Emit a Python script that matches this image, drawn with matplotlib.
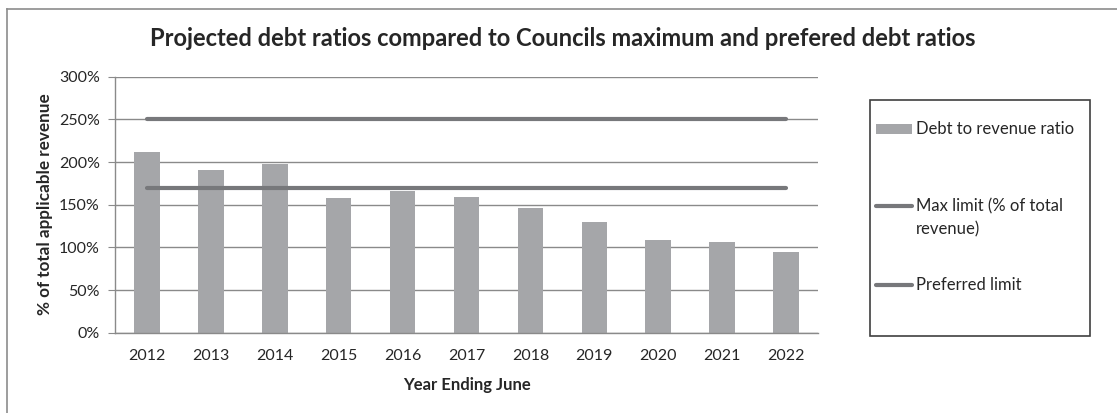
import matplotlib
matplotlib.use("Agg")
import matplotlib.pyplot as plt
from matplotlib.patches import Rectangle
from matplotlib.lines import Line2D
from matplotlib.ticker import FuncFormatter, MultipleLocator

years = ["2012", "2013", "2014", "2015", "2016", "2017", "2018", "2019", "2020", "2021", "2022"]
debt_ratio = [212, 191, 198, 158, 166, 159, 146, 130, 109, 106, 95]
max_limit = [250] * 11
preferred_limit = [170] * 11

plt.rcParams['font.family'] = ['Lato', 'DejaVu Sans']

W, H = 1117, 413
fig = plt.figure(figsize=(W / 100, H / 100), dpi=100)

def fx(px):
    return px / W

def fy(py):
    return 1 - py / H

txt_c = '#262626'

# outer frame
fig.add_artist(Line2D([fx(7), fx(7)], [fy(9), 0], color='#8c8c8c', lw=1.2))
fig.add_artist(Line2D([fx(7), 1], [fy(9), fy(9)], color='#8c8c8c', lw=1.2))

ax = fig.add_axes([fx(115), fy(332.7), fx(818) - fx(115), fy(76.7) - fy(332.7)])
x = list(range(len(years)))
bar_c = '#a5a6a9'
line_c = '#77787b'
ax.bar(x, debt_ratio, width=0.4, color=bar_c, zorder=2)
ax.plot(x, max_limit, color=line_c, lw=3, zorder=3, solid_capstyle='round')
ax.plot(x, preferred_limit, color=line_c, lw=3, zorder=3, solid_capstyle='round')

ax.set_xlim(-0.5, len(years) - 0.5)
ax.set_ylim(0, 300)
ax.yaxis.set_major_locator(MultipleLocator(50))
ax.yaxis.set_major_formatter(FuncFormatter(lambda v, p: f"{int(v)}%"))
ax.set_xticks(x)
ax.set_xticklabels(years)
ax.grid(axis='y', color='#8a8a8a', lw=1, zorder=0)
ax.set_axisbelow(True)
for s in ['top', 'right']:
    ax.spines[s].set_visible(False)
for s in ['left', 'bottom']:
    ax.spines[s].set_color('#8a8a8a')
    ax.spines[s].set_linewidth(1)
ax.tick_params(axis='y', length=5, color='#8a8a8a', labelsize=11.5, labelcolor=txt_c, pad=6)
ax.tick_params(axis='x', length=0, labelsize=11.5, labelcolor=txt_c, pad=12)

fig.text(fx(467), fy(385), "Year Ending June", ha='center', va='center',
         fontsize=12, fontweight='bold', color=txt_c)
fig.text(fx(45), fy(204), "% of total applicable revenue", ha='center', va='center',
         rotation=90, fontsize=12.3, fontweight='bold', color=txt_c)

fig.text(fx(563), fy(38), "Projected debt ratios compared to Councils maximum and prefered debt ratios",
         ha='center', va='center', fontsize=17.1, fontweight='bold', color=txt_c)

# legend box
fig.add_artist(Rectangle((fx(870), fy(336)), fx(1090) - fx(870), fy(100) - fy(336),
                         fill=False, edgecolor='#404040', lw=1.2))
fig.add_artist(Rectangle((fx(876), fy(133.5)), fx(912) - fx(876), fy(124) - fy(133.5),
                         facecolor=bar_c, edgecolor='none'))
leg_fs = 12
fig.text(fx(916), fy(129), "Debt to revenue ratio", ha='left', va='center', fontsize=leg_fs, color=txt_c)
fig.add_artist(Line2D([fx(876), fx(912)], [fy(206), fy(206)], color=line_c, lw=3, solid_capstyle='round'))
fig.text(fx(916), fy(206), "Max limit (% of total", ha='left', va='center', fontsize=leg_fs, color=txt_c)
fig.text(fx(916), fy(229), "revenue)", ha='left', va='center', fontsize=leg_fs, color=txt_c)
fig.add_artist(Line2D([fx(876), fx(912)], [fy(285), fy(285)], color=line_c, lw=3, solid_capstyle='round'))
fig.text(fx(916), fy(285), "Preferred limit", ha='left', va='center', fontsize=leg_fs, color=txt_c)

fig.savefig("out.png", dpi=100)
